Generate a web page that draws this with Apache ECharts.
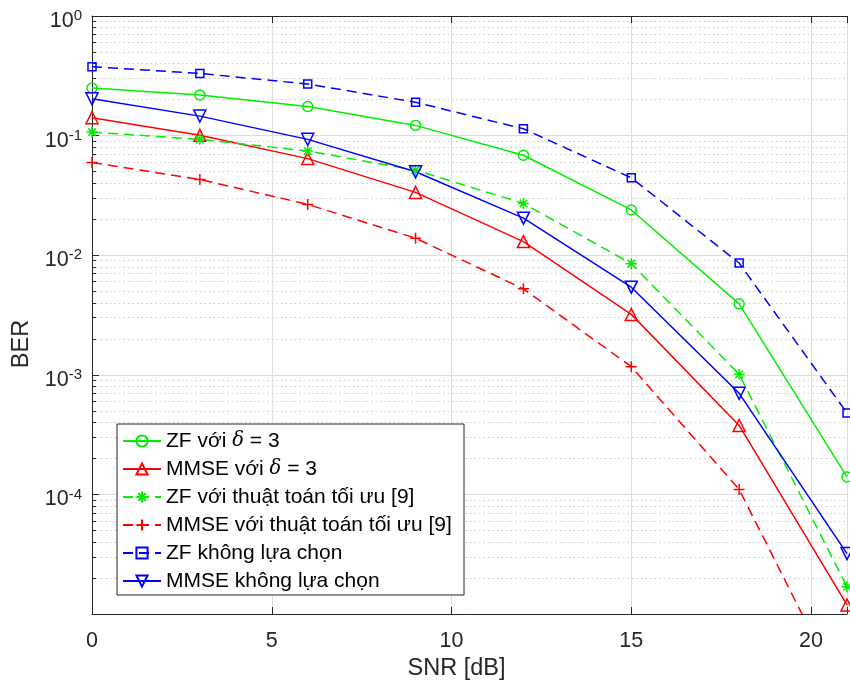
<!DOCTYPE html>
<html><head><meta charset="utf-8">
<script src="https://cdn.jsdelivr.net/npm/echarts@6/dist/echarts.min.js"></script>
<style>html,body{margin:0;padding:0;background:#fff}#c{width:850px;height:691px}</style>
</head><body><div id="c"></div>
<script>
// ---- data ----
const snr = [0, 3, 6, 9, 12, 15, 18, 21];
const zfDelta   = [0.250, 0.219, 0.175, 0.1217, 0.0685, 0.0239, 0.00392, 1.40e-4];
const mmseDelta = [0.141, 0.1005, 0.0642, 0.0335, 0.0130, 0.00320, 0.000377, 1.19e-5];
const zfOpt     = [0.107, 0.093, 0.0744, 0.0514, 0.0271, 0.0085, 0.00101, 1.69e-5];
const mmseOpt   = [0.0595, 0.0430, 0.0266, 0.01387, 0.00523, 0.00117, 0.000110, 1.8e-6];
const zfNone    = [0.377, 0.331, 0.270, 0.190, 0.114, 0.0444, 0.0086, 4.8e-4];
const mmseNone  = [0.203, 0.1455, 0.093, 0.0498, 0.0204, 0.0054, 0.00070, 3.2e-5];
const seriesNames = [
  'ZF với δ = 3',
  'MMSE với δ = 3',
  'ZF với thuật toán tối ưu [9]',
  'MMSE với thuật toán tối ưu [9]',
  'ZF không lựa chọn',
  'MMSE không lựa chọn'
];
const xTicks = [0, 5, 10, 15, 20];
const yTicks = [1e-4, 1e-3, 1e-2, 1e-1, 1];
const yMinor = [
  2e-5, 3e-5, 4e-5, 5e-5, 6e-5, 7e-5, 8e-5, 9e-5,
  2e-4, 3e-4, 4e-4, 5e-4, 6e-4, 7e-4, 8e-4, 9e-4,
  2e-3, 3e-3, 4e-3, 5e-3, 6e-3, 7e-3, 8e-3, 9e-3,
  2e-2, 3e-2, 4e-2, 5e-2, 6e-2, 7e-2, 8e-2, 9e-2,
  2e-1, 3e-1, 4e-1, 5e-1, 6e-1, 7e-1, 8e-1, 9e-1
];

// ---- styling ----
const GREEN = '#00ee00', RED = '#ff0000', BLUE = '#0000ff';
const AX = '#262626';
const FONT = 'Liberation Sans';
const PLUS = 'path://M0,5L10,5M5,0L5,10';
const STAR = 'path://M5,0L5,10M0,5L10,5M1.6,1.6L8.4,8.4M1.6,8.4L8.4,1.6';

function mk(name, vals, color, dashed, symbol, size, rot) {
  return {
    name: name, type: 'line', xAxisIndex: 0, yAxisIndex: 0,
    data: snr.map((x, i) => [x, vals[i]]),
    symbol: symbol, symbolSize: size, symbolRotate: rot || 0,
    showAllSymbol: true, clip: true,
    lineStyle: { color: color, width: 1.5, type: dashed ? [10, 6] : 'solid' },
    itemStyle: { color: 'rgba(255,255,255,0)', borderColor: color, borderWidth: 1.5 },
    emphasis: { disabled: true }
  };
}

const series = [
  mk(seriesNames[0], zfDelta, GREEN, false, 'circle', 10),
  mk(seriesNames[1], mmseDelta, RED, false, 'triangle', 12),
  mk(seriesNames[2], zfOpt, GREEN, true, STAR, 11),
  mk(seriesNames[3], mmseOpt, RED, true, PLUS, 11),
  mk(seriesNames[4], zfNone, BLUE, true, 'rect', 8),
  mk(seriesNames[5], mmseNone, BLUE, false, 'triangle', 12, 180)
];

const chart = echarts.init(document.getElementById('c'), null, { renderer: 'canvas' });
chart.setOption({
  animation: false,
  backgroundColor: '#fff',
  grid: { left: 92, top: 13, right: -5, bottom: 77, containLabel: false },
  xAxis: [{
    type: 'value', min: 0, max: 21, interval: 5, position: 'bottom',
    axisLine: { show: true, lineStyle: { color: AX, width: 1 } },
    axisTick: { show: true, inside: true, length: 7, lineStyle: { color: AX } },
    axisLabel: {
      formatter: v => (xTicks.indexOf(v) >= 0 ? String(v) : ''),
      fontSize: 21.5, color: AX, fontFamily: FONT, margin: 16
    },
    splitLine: { show: true, lineStyle: { color: '#dedede', width: 1 } },
    name: 'SNR [dB]', nameLocation: 'middle', nameGap: 40,
    nameTextStyle: { fontSize: 23.5, color: AX, fontFamily: FONT, padding: [0, 26, 0, 0] }
  }, {
    type: 'value', min: 0, max: 21, interval: 5, position: 'top',
    axisLine: { show: true, lineStyle: { color: AX, width: 1 } },
    axisTick: { show: true, inside: true, length: 7, lineStyle: { color: AX } },
    axisLabel: { show: false },
    splitLine: { show: false }
  }],
  yAxis: [{
    type: 'log', logBase: 10, min: 1e-5, max: 1, position: 'left',
    axisLine: { show: true, lineStyle: { color: AX, width: 1 } },
    axisTick: { show: true, inside: true, length: 7, lineStyle: { color: AX } },
    axisLabel: {
      margin: 10,
      formatter: v => {
        const e = Math.round(Math.log10(v));
        if (yTicks.every(t => Math.abs(Math.log10(t) - e) > 0.01)) return '';
        return '{b|10}{e|' + e + '}';
      },
      rich: {
        b: { fontSize: 21.5, fontFamily: FONT, color: AX, lineHeight: 22, padding: [10, 0, 0, 0] },
        e: { fontSize: 15, fontFamily: FONT, color: AX, lineHeight: 15 }
      }
    },
    splitLine: { show: true, lineStyle: { color: '#dedede', width: 1 } },
    name: 'BER', nameLocation: 'middle', nameGap: 58,
    nameTextStyle: { fontSize: 23.5, color: AX, fontFamily: FONT, padding: [0, 58, 0, 0] }
  }, {
    type: 'log', logBase: 10, min: 1e-5, max: 1, position: 'left',
    axisLine: { show: false },
    axisLabel: { show: false },
    axisTick: { show: true, inside: true, length: 4, customValues: yMinor, lineStyle: { color: AX } },
    splitLine: { show: true, lineStyle: { color: '#c9c9c9', width: 1, type: [1.5, 3] } }
  }],
  legend: {
    orient: 'vertical', left: 117, top: 424,
    data: seriesNames,
    itemWidth: 38, itemHeight: 14, itemGap: 6,
    padding: [6, 8, 3, 5],
    backgroundColor: '#fff', borderColor: AX, borderWidth: 1, borderRadius: 0,
    selectedMode: false,
    textStyle: {
      fontFamily: FONT, fontSize: 21, color: '#000', lineHeight: 22, width: 290,
      rich: { d: { fontFamily: 'DejaVu Serif', fontStyle: 'italic', fontSize: 19.5, color: '#000' } }
    },
    formatter: n => n.replace('δ', '{d|δ}')
  },
  series: series
});
</script></body></html>
